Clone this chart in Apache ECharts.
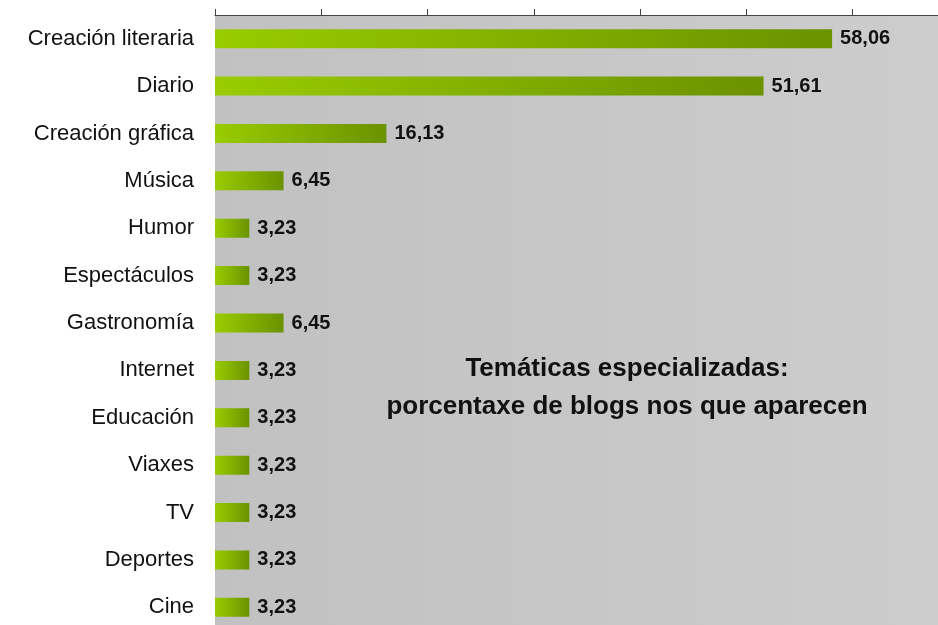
<!DOCTYPE html>
<html>
<head>
<meta charset="utf-8">
<script src="https://cdn.jsdelivr.net/npm/echarts@6/dist/echarts.min.js"></script>
<style>html,body{margin:0;padding:0;background:#fff;overflow:hidden}#c{width:960px;height:632px}</style>
</head>
<body>
<div id="c"></div>
<script>
var categories = ['Creación literaria','Diario','Creación gráfica','Música','Humor','Espectáculos','Gastronomía','Internet','Educación','Viaxes','TV','Deportes','Cine'];
var values = [58.06,51.61,16.13,6.45,3.23,3.23,6.45,3.23,3.23,3.23,3.23,3.23,3.23];
var titleLines = ['Temáticas especializadas:','porcentaxe de blogs nos que aparecen'];
var xTicks = [0,10,20,30,40,50,60,70];

var FONT = "'Liberation Sans', Arial, sans-serif";
var chart = echarts.init(document.getElementById('c'), null, {renderer:'canvas'});
chart.setOption({
  animation:false,
  backgroundColor:'#ffffff',
  grid:{left:215,right:1,top:15,bottom:1,show:true,borderWidth:0,
    backgroundColor:new echarts.graphic.LinearGradient(0,0,1,0,[{offset:0,color:'#c1c1c1'},{offset:1,color:'#cdcdcd'}])},
  xAxis:{type:'value',position:'top',min:xTicks[0],max:xTicks[xTicks.length-1],interval:10,
    axisLine:{show:true,lineStyle:{color:'#444',width:1}},
    axisTick:{show:true,length:6,lineStyle:{color:'#444'}},
    axisLabel:{show:false},splitLine:{show:false}},
  yAxis:{type:'category',data:categories,inverse:true,
    axisLine:{show:false},axisTick:{show:false},
    axisLabel:{color:'#111',fontSize:22,fontFamily:FONT,margin:21}},
  series:[{type:'bar',data:values,barWidth:19,
    itemStyle:{color:new echarts.graphic.LinearGradient(0,0,1,0,[{offset:0,color:'#99cc00'},{offset:1,color:'#6b9200'}])},
    label:{show:true,position:'right',distance:8,color:'#111',fontSize:20,fontWeight:'bold',fontFamily:FONT,
      formatter:function(p){return p.value.toFixed(2).replace('.',',');}}}],
  graphic:[
    {type:'text',style:{text:titleLines[0],x:627,y:369,textAlign:'center',textVerticalAlign:'middle',font:'bold 26px '+FONT,fill:'#111'}},
    {type:'text',style:{text:titleLines[1],x:627,y:407,textAlign:'center',textVerticalAlign:'middle',font:'bold 26px '+FONT,fill:'#111'}}
  ]
});
</script>
</body>
</html>
